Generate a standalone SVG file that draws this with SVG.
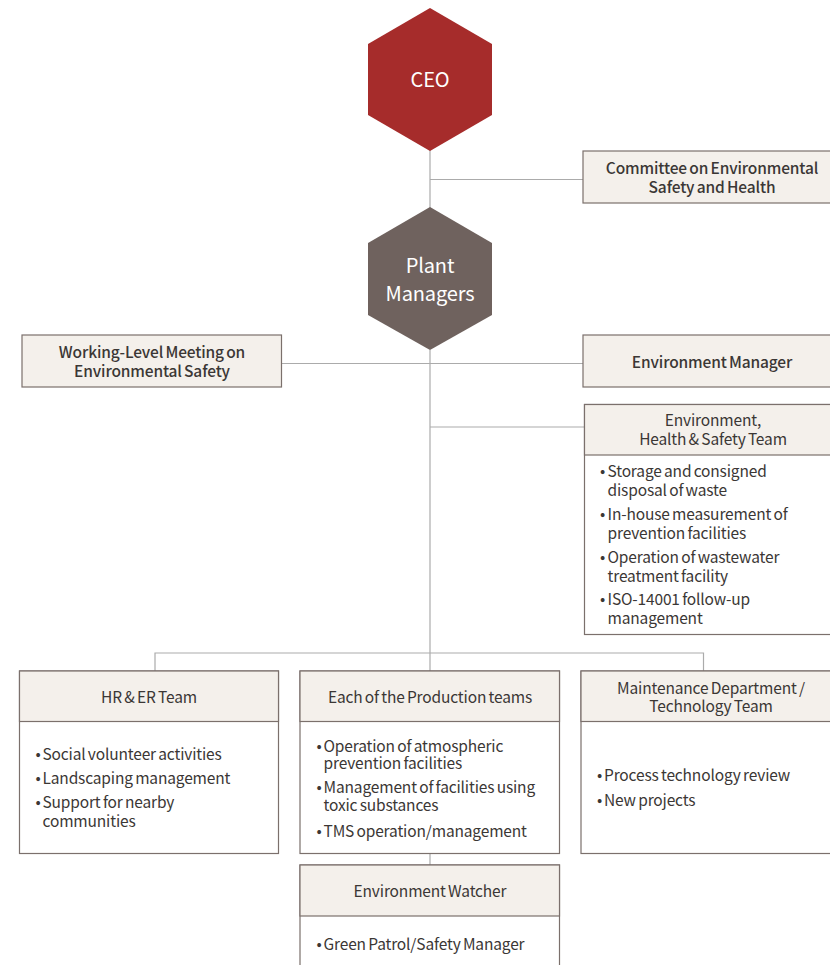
<svg xmlns="http://www.w3.org/2000/svg" width="830" height="965" viewBox="0 0 830 965">
  <style>
    text { font-family: "Noto Sans CJK KR", "Noto Sans", "Liberation Sans", sans-serif; fill: #3b3735; letter-spacing: -0.15px; word-spacing: -1px; }
    .hex-label { fill: #ffffff; font-size: 20px; text-anchor: middle; }
    .title { font-size: 15.5px; text-anchor: middle; font-weight: 500; }
    .head { font-size: 15.5px; text-anchor: middle; }
    .item { font-size: 15.5px; }
    .box-head { fill: #f4f0eb; stroke: #7b706c; stroke-width: 1.2; }
    .box-body { fill: #ffffff; stroke: #7b706c; stroke-width: 1.2; }
    .conn { fill: none; stroke: #ababab; stroke-width: 1.2; }
  </style>

  <!-- connectors -->
  <g id="connectors">
    <path class="conn" d="M430 150 V208"/>
    <path class="conn" d="M430 179.5 H583"/>
    <path class="conn" d="M430 350 V671"/>
    <path class="conn" d="M281 363.5 H583"/>
    <path class="conn" d="M430 427 H584"/>
    <path class="conn" d="M155 671 V653 H703.5 V671"/>
    <path class="conn" d="M430 853 V865"/>
  </g>

  <!-- top of the hierarchy -->
  <g id="ceo">
    <polygon points="430,8 492,44 492,115 430,151 368,115 368,44" fill="#a62c2b"/>
    <text class="hex-label" x="430" y="87">CEO</text>
  </g>

  <g id="committee">
    <rect class="box-head" x="583" y="151" width="260" height="52"/>
    <text class="title" x="712" y="174">Committee on Environmental<tspan x="712" y="193">Safety and Health</tspan></text>
  </g>

  <g id="plant-managers">
    <polygon points="430,207 492,243 492,315 430,350 368,315 368,243" fill="#6f625e"/>
    <text class="hex-label" x="430" y="273">Plant<tspan x="430" y="301">Managers</tspan></text>
  </g>

  <g id="working-level-meeting">
    <rect class="box-head" x="22" y="335" width="259.5" height="52"/>
    <text class="title" x="152" y="358">Working-Level Meeting on<tspan x="152" y="377">Environmental Safety</tspan></text>
  </g>

  <g id="environment-manager">
    <rect class="box-head" x="583" y="335" width="260" height="52"/>
    <text class="title" x="712" y="367.5">Environment Manager</text>
  </g>

  <!-- EHS team -->
  <g id="ehs-team">
    <rect class="box-body" x="584.5" y="404.5" width="260" height="230"/>
    <rect class="box-head" x="584.5" y="404.5" width="260" height="50.5"/>
    <text class="head" x="713" y="425.5">Environment,<tspan x="713" y="445">Health &amp; Safety Team</tspan></text>
    <text class="item" x="600" y="477">•<tspan x="607.5">Storage and consigned</tspan><tspan x="607.5" y="495.5">disposal of waste</tspan></text>
    <text class="item" x="600" y="519.5">•<tspan x="607.5">In-house measurement of</tspan><tspan x="607.5" y="538.5">prevention facilities</tspan></text>
    <text class="item" x="600" y="562.5">•<tspan x="607.5">Operation of wastewater</tspan><tspan x="607.5" y="582">treatment facility</tspan></text>
    <text class="item" x="600" y="604.5">•<tspan x="607.5">ISO-14001 follow-up</tspan><tspan x="607.5" y="623.5">management</tspan></text>
  </g>

  <!-- teams -->
  <g id="hr-er-team">
    <rect class="box-body" x="19.5" y="671" width="259" height="182.5"/>
    <rect class="box-head" x="19.5" y="671" width="259" height="50.5"/>
    <text class="head" x="149" y="702.5">HR &amp; ER Team</text>
    <text class="item" x="35.5" y="759.5">•<tspan x="42.5">Social volunteer activities</tspan></text>
    <text class="item" x="35.5" y="783.5">•<tspan x="42.5">Landscaping management</tspan></text>
    <text class="item" x="35.5" y="808">•<tspan x="42.5">Support for nearby</tspan><tspan x="42.5" y="827">communities</tspan></text>
  </g>

  <g id="production-teams">
    <rect class="box-body" x="300" y="671" width="259.5" height="182.5"/>
    <rect class="box-head" x="300" y="671" width="259.5" height="50.5"/>
    <text class="head" x="430" y="702.5">Each of the Production teams</text>
    <text class="item" x="316.5" y="751.5">•<tspan x="323.5">Operation of atmospheric</tspan><tspan x="323.5" y="769">prevention facilities</tspan></text>
    <text class="item" x="316.5" y="792.5">•<tspan x="323.5">Management of facilities using</tspan><tspan x="323.5" y="811">toxic substances</tspan></text>
    <text class="item" x="316.5" y="837">•<tspan x="323.5">TMS operation/management</tspan></text>
  </g>

  <g id="maintenance-technology">
    <rect class="box-body" x="581" y="671" width="260" height="182.5"/>
    <rect class="box-head" x="581" y="671" width="260" height="50.5"/>
    <text class="head" x="711" y="693.5">Maintenance Department /<tspan x="711" y="712">Technology Team</tspan></text>
    <text class="item" x="597" y="780.5">•<tspan x="604">Process technology review</tspan></text>
    <text class="item" x="597" y="805.5">•<tspan x="604">New projects</tspan></text>
  </g>

  <g id="environment-watcher">
    <rect class="box-body" x="300" y="865" width="259.5" height="115"/>
    <rect class="box-head" x="300" y="865" width="259.5" height="51"/>
    <text class="head" x="430" y="897">Environment Watcher</text>
    <text class="item" x="316.5" y="949.5">•<tspan x="323.5">Green Patrol/Safety Manager</tspan></text>
  </g>
</svg>
